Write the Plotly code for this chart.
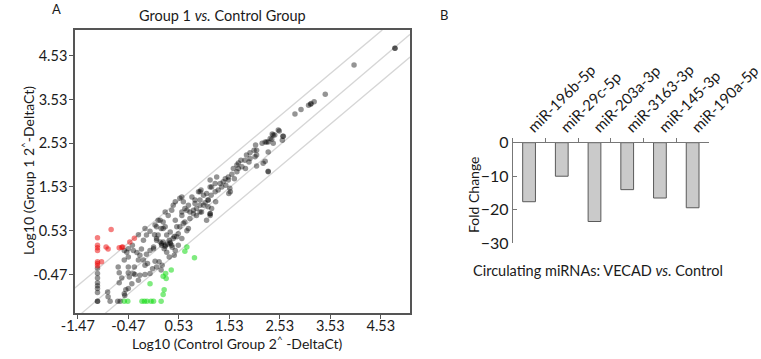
import plotly.graph_objects as go

W, H = 761, 359

# ---------------- Panel A data ----------------
gray_x = [-1.08, -1.08, -1.08, -1.08, -1.08, -1.08, -1.08, -1.08, -1.08,
          -0.88, -0.87, -0.83, -0.68, -0.63, -0.55, -0.52, -0.65, -0.60, -0.65, -0.47,
          -0.45, -0.37, -0.47, -0.67, -0.55, -0.47, -0.50, -0.55, -0.47, -0.37,
          -0.30, -0.24, -0.27, -0.17, -0.14, -0.35, -0.34, -0.24, -0.14, -0.27,
          -0.40, -0.47, -0.54, -0.04, 0.01, 0.09, -0.09, 0.06, 0.14, 0.20,
          0.18, -0.11, -0.04, 0.03, -0.21, -0.39, -0.17, -0.11, -0.04, 0.05,
          0.09, 0.16, 0.19, 0.26, 0.22, 0.18, 0.26, 0.29, 0.36, 0.34,
          0.42, 0.39, 0.46, 0.29, 0.34, 0.44, 0.52, 0.59, 0.49, 0.46,
          0.32, 0.39, 0.59, 0.65, 0.72, 0.75, 0.82, 0.85, 0.95, 1.02,
          1.11, 1.18, 1.08, 1.15, 0.22, 0.12, 0.06, -0.14, -0.27, 0.12,
          3.43, 3.15, 3.10, 2.95, 2.83, 2.52, 2.60, 2.58, 2.38, 2.37,
          2.40, 2.27, 2.18, 2.30, 2.24, 2.30, 2.05, 2.02, 1.94, 2.07,
          2.04, 1.87, 1.84, 1.92, 2.07, 1.76, 1.71, 1.68, 1.78, 1.85,
          1.61, 1.68, 1.58, 1.63, 1.51, 1.45, 1.41, 1.46, 1.38, 1.35,
          1.54, 1.52, 1.31, 1.25, 1.18, 1.15, 1.28, 1.17, 1.08, 1.02,
          0.97, 0.92, 0.95, 1.05, 1.11, 1.26, 0.85, 0.79, 0.72, 0.65,
          0.59, 0.55, 0.88, 0.98, 1.15, 0.82, 1.11,
          4.81, 4.81, 4.00, 3.21, 3.14, 2.50, 2.59, 2.40, 2.34, 2.24,
          0.09, 0.16, 0.26, 0.42, 0.46, 0.59, 0.62, 0.75, 0.88, 1.15,
          0.95, 1.15, 1.25, 1.55, 1.51, 1.71, 1.94, 2.07, 2.20, 2.30,
          2.30, 2.43, 0.36, 0.49, 0.69, 0.55, 0.09, 0.03, 0.95, 0.69,
          0.19, 0.26, 0.22, 0.31, 0.36, 0.24, 0.40, 0.44, 0.52, 0.62]
gray_y = [-0.45, -0.55, -0.66, -0.73, -0.79, -0.88, -1.08, -1.08, -0.33,
          -0.87, -0.98, -1.08, -1.08, -1.08, -0.91, -0.82, -0.66, -0.55, -0.43, -0.43,
          -0.53, -0.45, -0.30, -0.30, -0.14, -0.07, 0.04, 0.08, 0.12, 0.08,
          0.03, -0.03, -0.14, -0.14, -0.26, -0.30, -0.47, -0.49, -0.47, -0.60,
          -0.68, -0.79, -0.95, -0.45, -0.34, -0.30, -0.22, -0.17, -0.18, -0.26,
          -0.37, -0.01, 0.08, 0.12, 0.11, 0.20, 0.31, 0.43, 0.52, 0.44,
          0.35, 0.27, 0.20, 0.20, 0.58, 0.58, 0.62, 0.43, 0.50, 0.31,
          0.35, 0.20, 0.08, 0.04, -0.07, -0.03, 0.20, 0.35, 0.62, 0.77,
          0.88, 1.00, 0.88, 0.73, 0.58, 0.81, 1.00, 1.15, 0.96, 1.11,
          1.23, 1.04, 0.77, 0.92, 0.73, 0.77, 0.66, 0.58, 0.44, 0.43,
          3.65, 3.44, 3.40, 3.30, 3.20, 2.81, 2.69, 2.60, 2.74, 2.62,
          2.53, 2.56, 2.53, 2.33, 2.12, 1.89, 2.49, 2.37, 2.31, 2.26,
          2.22, 2.26, 2.14, 2.10, 2.01, 2.14, 2.08, 2.03, 1.99, 1.95,
          1.95, 1.88, 1.82, 1.72, 1.76, 1.72, 1.65, 1.57, 1.53, 1.61,
          1.50, 1.38, 1.46, 1.42, 1.53, 1.69, 1.76, 1.34, 1.38, 1.34,
          1.46, 1.42, 1.23, 1.17, 1.23, 1.19, 1.23, 1.30, 1.11, 1.04,
          0.96, 1.27, 1.04, 0.96, 0.88, 0.92, 1.08,
          4.70, 4.70, 4.32, 3.48, 3.42, 2.83, 2.69, 2.72, 2.64, 2.56,
          0.62, 0.77, 0.96, 1.11, 1.19, 1.30, 1.19, 0.96, 0.88, 0.92,
          1.42, 1.53, 1.61, 1.42, 1.69, 1.95, 2.18, 2.37, 2.07, 1.88,
          2.56, 2.72, 0.24, 0.39, 0.53, 0.62, 0.31, 0.16, 1.11, 1.00,
          0.24, 0.17, 0.27, 0.22, 0.26, 0.12, 0.15, 0.40, 0.46, 0.70]

red_x = [-1.08, -1.08, -1.08, -1.08, -1.08, -1.08, -1.08, -0.81, -0.91, -0.87,
         -0.65, -0.58, -0.44, -0.35, -1.00, -0.60]
red_y = [0.37, 0.20, 0.14, 0.08, -0.18, -0.22, -0.27, 0.56, 0.16, 0.11,
         0.14, 0.16, 0.27, 0.36, -0.18, 0.15]

green_x = [-0.55, -0.48, -0.20, -0.15, -0.02, 0.03, 0.18, 0.22, 0.24, -0.04,
           0.22, 0.27, 0.38, 0.69, 0.65, 0.84, 0.28, -0.10]
green_y = [-1.08, -1.08, -1.08, -1.08, -1.08, -1.08, -1.08, -0.93, -0.82, -0.68,
           -0.51, -0.45, -0.37, 0.16, 0.06, -0.09, -0.56, -1.08]

# reference (fold-change) guide lines, endpoints in data units
upper_x, upper_y = [-1.60, 4.56], [-0.85, 5.12]
middle_x, middle_y = [-1.60, 5.11], [-1.56, 5.02]
lower_x, lower_y = [-1.00, 5.11], [-1.43, 4.50]

a_ticks = [-1.47, -0.47, 0.53, 1.53, 2.53, 3.53, 4.53]
a_ticktext = ["-1.47", "-0.47", "0.53", "1.53", "2.53", "3.53", "4.53"]

# ---------------- Panel B data ----------------
mirnas = ["miR-196b-5p", "miR-29c-5p", "miR-203a-3p", "miR-3163-3p", "miR-145-3p", "miR-190a-5p"]
fold_change = [-17.6, -10.0, -23.5, -14.0, -16.5, -19.4]
b_ticks = [0, -10, -20, -30]

FONT = "Lato"
TXT = "#1a1a1a"

fig = go.Figure()
for lx, ly in [(upper_x, upper_y), (middle_x, middle_y), (lower_x, lower_y)]:
    fig.add_trace(go.Scatter(x=lx, y=ly, mode="lines", line=dict(color="#d6d6d6", width=1.3),
                             xaxis="x", yaxis="y", showlegend=False, hoverinfo="skip"))
fig.add_trace(go.Scatter(x=gray_x, y=gray_y, mode="markers",
                         marker=dict(size=5.5, color="rgba(0,0,0,0.42)", line=dict(width=0)),
                         xaxis="x", yaxis="y", showlegend=False))
fig.add_trace(go.Scatter(x=red_x, y=red_y, mode="markers",
                         marker=dict(size=5.5, color="rgba(235,0,0,0.5)", line=dict(width=0)),
                         xaxis="x", yaxis="y", showlegend=False))
fig.add_trace(go.Scatter(x=green_x, y=green_y, mode="markers",
                         marker=dict(size=5.5, color="rgba(0,215,0,0.5)", line=dict(width=0)),
                         xaxis="x", yaxis="y", showlegend=False))

fig.add_trace(go.Bar(x=mirnas, y=fold_change, xaxis="x2", yaxis="y2", showlegend=False,
                     marker=dict(color="#cacaca", line=dict(color="#5a5a5a", width=1))))

def px(x):
    return x / W

def py(y):
    return 1 - y / H

fig.update_layout(
    template="none",
    width=W, height=H, margin=dict(l=0, r=0, t=0, b=0, pad=0), autosize=False,
    paper_bgcolor="white", plot_bgcolor="white",
    font=dict(family=FONT, color=TXT, size=13),
    bargap=0.61,
    xaxis=dict(domain=[px(75), px(410)], range=[-1.5255, 5.108], tickvals=a_ticks, ticktext=a_ticktext,
               showgrid=False, zeroline=False, showline=True, mirror=True, linecolor="#555555", linewidth=1.5,
               ticks="outside", ticklen=4, tickcolor="#555555", tickfont=dict(size=14.5, family=FONT, color=TXT),
               ticklabelstandoff=-5, anchor="y", automargin=False),
    yaxis=dict(domain=[py(313), py(30)], range=[-1.351, 5.118], tickvals=a_ticks, ticktext=a_ticktext,
               showgrid=False, zeroline=False, showline=True, mirror=True, linecolor="#555555", linewidth=1.5,
               ticks="outside", ticklen=4, tickcolor="#555555", tickfont=dict(size=14.5, family=FONT, color=TXT),
               ticklabelstandoff=-1, anchor="x", automargin=False),
    xaxis2=dict(domain=[px(512.7), px(709)], side="top", anchor="y2", type="category",
                showgrid=False, zeroline=False, showline=True, linecolor="#777777", linewidth=1,
                ticks="outside", tickson="boundaries", ticklen=4, tickcolor="#777777",
                tickangle=-45, tickfont=dict(size=15, family=FONT, color=TXT), automargin=False),
    yaxis2=dict(domain=[py(243.3), py(142.7)], range=[-30, 0], anchor="x2", tickvals=b_ticks,
                showgrid=False, zeroline=False, showline=True, linecolor="#777777", linewidth=1,
                ticks="inside", ticklen=4, tickcolor="#777777", tickfont=dict(size=16, family=FONT, color=TXT),
                automargin=False),
)

ann = [
    dict(text="A", x=px(57), y=py(9), size=13, angle=0),
    dict(text="B", x=px(444), y=py(15), size=13, angle=0),
    dict(text="Group 1 <i>vs.</i> Control Group", x=px(223), y=py(15), size=14.5, angle=0),
    dict(text="Log10 (Control Group 2<sup>^</sup> -DeltaCt)", x=px(237), y=py(342), size=14, angle=0),
    dict(text="Log10 (Group 1 2<sup>^</sup>-DeltaCt)", x=px(27), y=py(171), size=14, angle=-90),
    dict(text="Fold Change", x=px(473), y=py(195), size=14, angle=-90),
    dict(text="Circulating miRNAs: VECAD <i>vs.</i> Control", x=px(598), y=py(270), size=14.5, angle=0),
]
fig.update_layout(annotations=[
    dict(text=a["text"], x=a["x"], y=a["y"], xref="paper", yref="paper", showarrow=False,
         xanchor="center", yanchor="middle", textangle=a["angle"],
         font=dict(size=a["size"], family=FONT, color=TXT))
    for a in ann
])

fig.write_html("out.html", config={"displayModeBar": False},
               post_script="document.body.style.margin='0';document.body.style.overflow='hidden';")
